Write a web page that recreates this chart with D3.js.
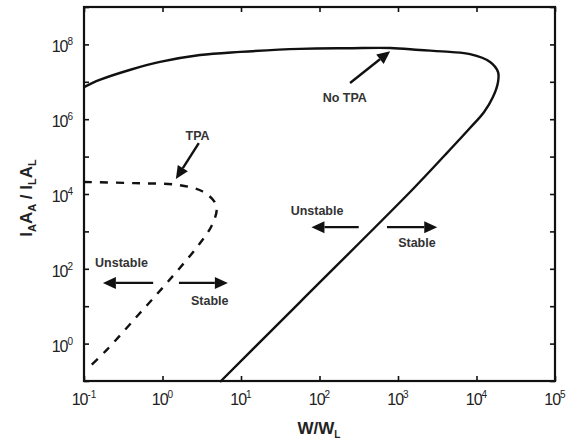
<!DOCTYPE html>
<html>
<head>
<meta charset="utf-8">
<script src="https://cdn.jsdelivr.net/npm/d3@7"></script>
<style>
  body { margin: 0; background: #fff; }
  text { font-family: "Liberation Sans", Arial, sans-serif; }
</style>
</head>
<body>
<svg id="svg" width="574" height="441"></svg>
<script>
// curve without TPA (solid)
var noTpaX = [0.1, 0.158, 0.39, 0.93, 3.0, 9.8, 56, 245, 794, 1900, 4570, 8260, 14900, 18800,
              18800, 16200, 12500, 8260, 3970, 1510, 56.5, 5.4];
var noTpaY = [7.2e6, 1.12e7, 2.1e7, 3.4e7, 5.2e7, 6.3e7, 7.6e7, 7.9e7, 8.0e7, 7.1e7, 6.3e7, 5.5e7, 3.4e7, 1.83e7,
              9.9e6, 3.9e6, 1.56e6, 5.8e5, 1.1e5, 1.28e4, 12.9, 0.094];

// curve with TPA (dashed)
var tpaX = [0.1, 0.44, 1.58, 3.16, 4.6, 4.9, 4.2, 2.75, 1.17, 0.49, 0.195, 0.112];
var tpaY = [2.1e4, 1.95e4, 1.74e4, 1.2e4, 6200, 3700, 1380, 380, 45, 5.8, 0.68, 0.22];

// axis ticks (exponents)
var xTicks = [-1, 0, 1, 2, 3, 4, 5];
var yTicks = [-1, 0, 1, 2, 3, 4, 5, 6, 7, 8, 9];
var yLabels = [0, 2, 4, 6, 8];

// annotations (data coordinates)
var labels = [
  { text: "TPA", x: 2.8, y: 2.8e5 },
  { text: "No TPA", x: 210, y: 2.9e6 },
  { text: "Unstable", x: 0.30, y: 112 },
  { text: "Stable", x: 4.0, y: 10.7 },
  { text: "Unstable", x: 93, y: 2750 },
  { text: "Stable", x: 1740, y: 380 }
];
var arrows = [
  { x1: 2.9, y1: 2.3e5, x2: 1.48, y2: 2.5e4 },
  { x1: 245, y1: 9.3e6, x2: 794, y2: 6.6e7 },
  { x1: 0.76, y1: 42, x2: 0.174, y2: 42 },
  { x1: 1.62, y1: 42, x2: 6.8, y2: 42 },
  { x1: 316, y1: 1300, x2: 79, y2: 1300 },
  { x1: 724, y1: 1300, x2: 3160, y2: 1300 }
];

var svg = d3.select("#svg"),
    margin = { left: 84, right: 19, top: 7, bottom: 60 },
    wsvg = +svg.attr("width"),
    hsvg = +svg.attr("height"),
    width = wsvg - margin.left - margin.right,
    height = hsvg - margin.top - margin.bottom;

var x = d3.scaleLog().domain([0.1, 1e5]).range([margin.left, margin.left + width]);
var y = d3.scaleLog().domain([0.1, 1e9]).range([margin.top + height, margin.top]);

var ink = "#111";
var tickLen = 5;
var pow10 = e => Math.pow(10, e);

// ticks on all four sides, pointing inward
svg.append("g").attr("transform", "translate(0," + (margin.top + height) + ")")
  .call(d3.axisBottom(x).tickValues(xTicks.map(pow10)).tickSizeInner(-tickLen).tickSizeOuter(0).tickFormat(""));
svg.append("g").attr("transform", "translate(0," + margin.top + ")")
  .call(d3.axisTop(x).tickValues(xTicks.map(pow10)).tickSizeInner(-tickLen).tickSizeOuter(0).tickFormat(""));
svg.append("g").attr("transform", "translate(" + margin.left + ",0)")
  .call(d3.axisLeft(y).tickValues(yTicks.map(pow10)).tickSizeInner(-tickLen).tickSizeOuter(0).tickFormat(""));
svg.append("g").attr("transform", "translate(" + (margin.left + width) + ",0)")
  .call(d3.axisRight(y).tickValues(yTicks.map(pow10)).tickSizeInner(-tickLen).tickSizeOuter(0).tickFormat(""));
svg.selectAll(".domain").remove();
svg.selectAll(".tick line").attr("stroke", ink).attr("stroke-width", 1.6);

// tick labels 10^n
var xl = svg.append("g").selectAll("text").data(xTicks).enter().append("text")
  .attr("x", d => x(pow10(d)))
  .attr("y", margin.top + height + 24)
  .attr("text-anchor", "middle")
  .attr("font-size", 16).attr("letter-spacing", -1).attr("fill", "#222");
xl.append("tspan").text("10");
xl.append("tspan").attr("dy", -7).attr("font-size", 10).attr("letter-spacing", 0).text(d => d);

var yl = svg.append("g").selectAll("text").data(yLabels).enter().append("text")
  .attr("x", margin.left - 11)
  .attr("y", d => y(pow10(d)) + 8)
  .attr("text-anchor", "end")
  .attr("font-size", 16).attr("letter-spacing", -1).attr("fill", "#222");
yl.append("tspan").text("10");
yl.append("tspan").attr("dy", -7).attr("font-size", 10).attr("letter-spacing", 0).text(d => d);

// frame
svg.append("rect")
  .attr("x", margin.left).attr("y", margin.top)
  .attr("width", width).attr("height", height)
  .attr("fill", "none").attr("stroke", ink).attr("stroke-width", 2.2);

// axis titles
var xt = svg.append("text")
  .attr("x", 319).attr("y", 434)
  .attr("text-anchor", "middle")
  .attr("font-size", 17).attr("font-weight", "bold").attr("fill", "#222");
xt.append("tspan").text("W/W");
xt.append("tspan").attr("dy", 4).attr("font-size", 10).text("L");

var yt = svg.append("text")
  .attr("transform", "translate(32," + (margin.top + height / 2 + 4) + ") rotate(-90)")
  .attr("text-anchor", "middle")
  .attr("font-size", 17).attr("font-weight", "bold").attr("fill", "#222");
[["I", ""], ["A", "sub"], ["A", ""], ["A", "sub"], [" / I", ""], ["L", "sub"], ["A", ""], ["L", "sub"]].forEach(function(p, i, arr) {
  var t = yt.append("tspan").text(p[0]);
  if (p[1] === "sub") t.attr("dy", 4).attr("font-size", 11);
  else if (i > 0 && arr[i - 1][1] === "sub") t.attr("dy", -4);
});

// curves
var line = d3.line()
  .x(d => x(d[0]))
  .y(d => y(d[1]))
  .curve(d3.curveCatmullRom.alpha(0.5));

svg.append("path")
  .datum(d3.zip(noTpaX, noTpaY))
  .attr("d", line)
  .attr("fill", "none").attr("stroke", ink).attr("stroke-width", 2.4);

svg.append("path")
  .datum(d3.zip(tpaX, tpaY))
  .attr("d", line)
  .attr("fill", "none").attr("stroke", ink).attr("stroke-width", 2.4)
  .attr("stroke-dasharray", "8,8");

// annotation arrows
var headLen = 13, headW = 6;
arrows.forEach(function(a) {
  var x1 = x(a.x1), y1 = y(a.y1), x2 = x(a.x2), y2 = y(a.y2);
  var ang = Math.atan2(y2 - y1, x2 - x1);
  var bx = x2 - headLen * Math.cos(ang), by = y2 - headLen * Math.sin(ang);
  svg.append("line")
    .attr("x1", x1).attr("y1", y1).attr("x2", bx).attr("y2", by)
    .attr("stroke", ink).attr("stroke-width", 2.4);
  var px = -Math.sin(ang) * headW, py = Math.cos(ang) * headW;
  svg.append("path")
    .attr("d", "M" + x2 + "," + y2 + "L" + (bx + px) + "," + (by + py) + "L" + (bx - px) + "," + (by - py) + "Z")
    .attr("fill", ink);
});

svg.append("g").selectAll("text").data(labels).enter().append("text")
  .attr("x", d => x(d.x)).attr("y", d => y(d.y))
  .attr("text-anchor", "middle")
  .attr("font-size", 12.5).attr("font-weight", "bold").attr("fill", "#333")
  .text(d => d.text);
</script>
</body>
</html>
